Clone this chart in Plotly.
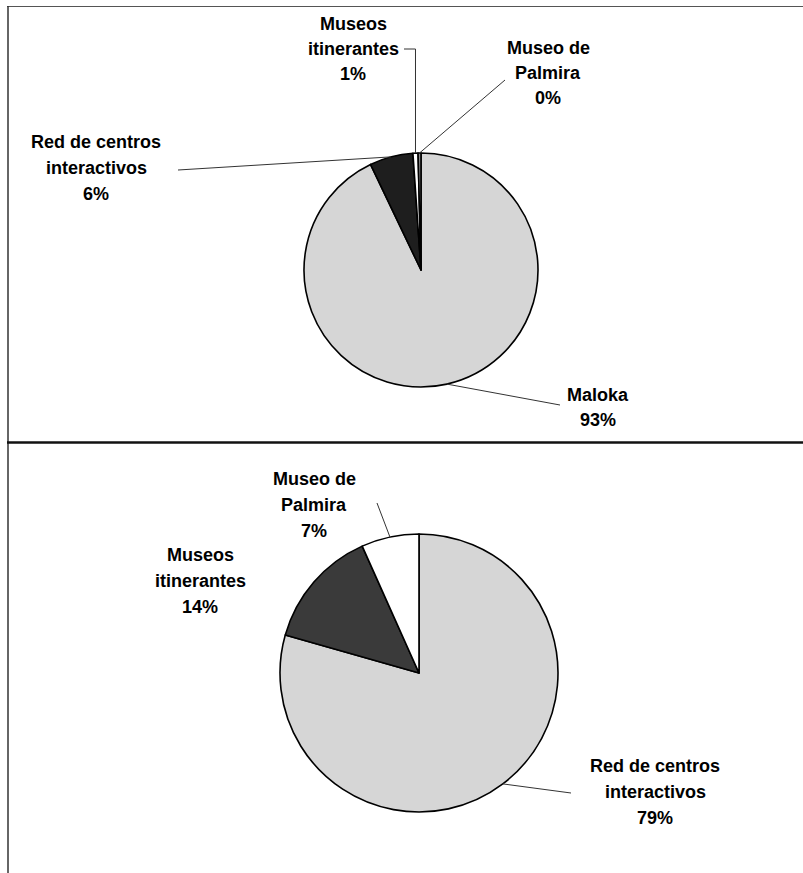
import plotly.graph_objects as go
import math

W, H = 803, 873

# ---- data ----
top_labels = ["Maloka", "Red de centros<br>interactivos", "Museos<br>itinerantes", "Museo de<br>Palmira"]
top_values = [92.9, 6.0, 0.7, 0.4]
top_colors = ["#d6d6d6", "#1e1e1e", "#ffffff", "#8a8a8a"]

bot_labels = ["Red de centros<br>interactivos", "Museos<br>itinerantes", "Museo de<br>Palmira"]
bot_values = [79.4, 13.9, 6.7]
bot_colors = ["#d6d6d6", "#3a3a3a", "#ffffff"]

# ---- layout geometry (pixels) ----
TOP_C, TOP_R = (421, 270), 117
BOT_C, BOT_R = (419, 673), 139

# label placement: (center x, first line y, line spacing, leader start, elbow)
top_label_pos = [
    (598, 395, 25, (560, 405), False),   # Maloka
    (96, 142, 26, (178, 170), False),    # Red de centros
    (353, 24, 25, (404, 49), True),      # Museos itinerantes
    (548, 48, 25, (505, 80), False),     # Museo de Palmira
]
bot_label_pos = [
    (655, 766, 26, (571, 793), False),
    (200, 555, 26, None, False),
    (314, 479, 26, (377, 503), False),
]

FONT = "Liberation Sans, Arial, sans-serif"


def px(x):
    return x / W


def py(y):
    return 1 - y / H


fig = go.Figure()
annotations = []
shapes = []


def add_pie(labels, values, colors, center, r, label_pos):
    cx, cy = center
    fig.add_trace(go.Pie(
        labels=[l.replace("<br>", " ") for l in labels],
        values=values,
        sort=False,
        direction="clockwise",
        rotation=0,
        textinfo="none",
        hoverinfo="label+percent",
        marker=dict(colors=colors, line=dict(color="#000000", width=1.6)),
        domain=dict(x=[px(cx - r), px(cx + r)], y=[py(cy + r), py(cy - r)]),
        showlegend=False,
    ))
    total = sum(values)
    cum = 0
    for lab, v, pos in zip(labels, values, label_pos):
        pct = round(v / total * 100)
        mid = 2 * math.pi * (cum + v / 2) / total
        cum += v
        ex = cx + r * math.sin(mid)
        ey = cy - r * math.cos(mid)
        lx, ly, sp, start, elbow = pos
        lines = lab.split("<br>") + [f"{pct}%"]
        for i, t in enumerate(lines):
            annotations.append(dict(
                x=px(lx), y=py(ly + i * sp), xref="paper", yref="paper",
                text=f"<b>{t}</b>", showarrow=False,
                xanchor="center", yanchor="middle",
                font=dict(family=FONT, size=18, color="#000000"),
            ))
        if start is not None:
            sx, sy = start
            if elbow:
                path = f"M {px(sx)},{py(sy)} L {px(ex)},{py(sy)} L {px(ex)},{py(ey)}"
            else:
                path = f"M {px(sx)},{py(sy)} L {px(ex)},{py(ey)}"
            shapes.append(dict(type="path", xref="paper", yref="paper", path=path,
                               line=dict(color="#333333", width=1)))


add_pie(top_labels, top_values, top_colors, TOP_C, TOP_R, top_label_pos)
add_pie(bot_labels, bot_values, bot_colors, BOT_C, BOT_R, bot_label_pos)

# frame lines
shapes += [
    dict(type="line", xref="paper", yref="paper", x0=px(7), x1=1, y0=py(6.5), y1=py(6.5),
         line=dict(color="#555555", width=1.2)),
    dict(type="line", xref="paper", yref="paper", x0=px(8), x1=px(8), y0=py(6), y1=0,
         line=dict(color="#333333", width=1.5)),
    dict(type="line", xref="paper", yref="paper", x0=px(7), x1=1, y0=py(442.5), y1=py(442.5),
         line=dict(color="#111111", width=2.5)),
]

fig.update_layout(
    width=W, height=H,
    margin=dict(l=0, r=0, t=0, b=0),
    paper_bgcolor="#ffffff", plot_bgcolor="#ffffff",
    annotations=annotations, shapes=shapes,
)

fig.write_html("out.html")
